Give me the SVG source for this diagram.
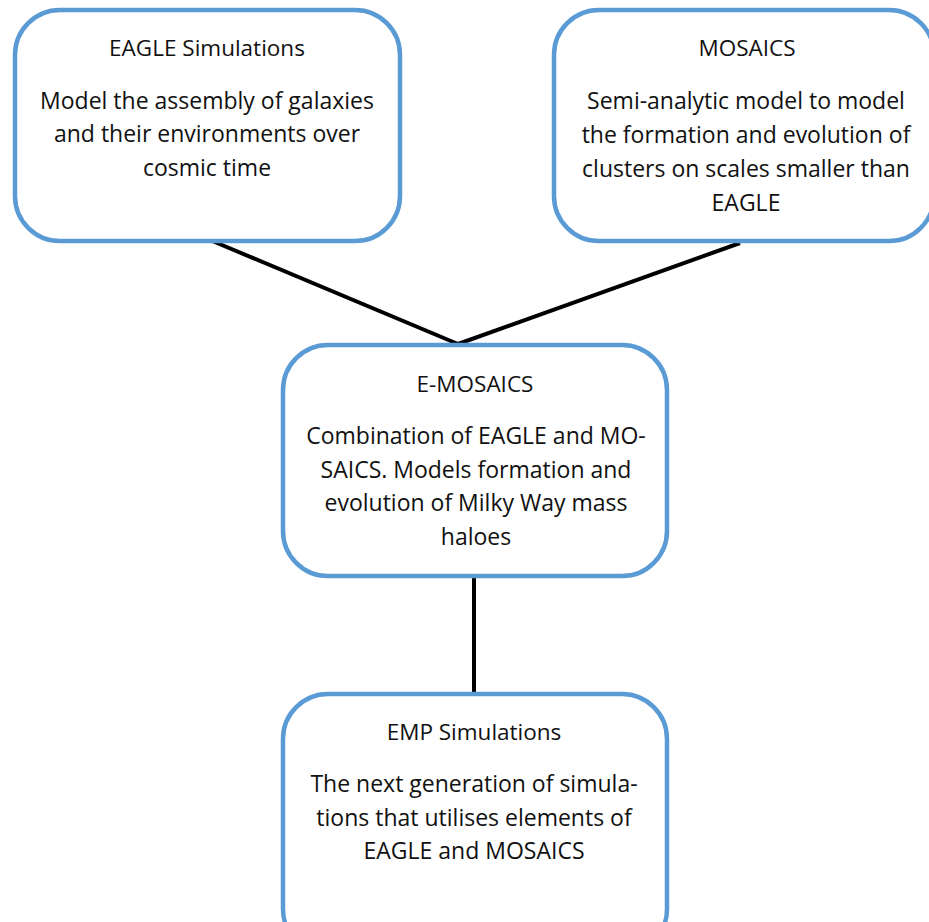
<svg xmlns="http://www.w3.org/2000/svg" width="929" height="922" viewBox="0 0 929 922">
<style>
.box{fill:#fff;stroke:#5b9bd5;stroke-width:4.5}
.t{font-family:"Open Sans","Liberation Sans",sans-serif;font-size:22.5px;fill:#111;text-anchor:middle}
.b{font-family:"Open Sans","Liberation Sans",sans-serif;font-size:23px;fill:#111;text-anchor:middle}
.c{stroke:#000;stroke-width:4;fill:none}
</style>
<rect width="929" height="922" fill="#fff"/>
<g id="connectors">
<line class="c" x1="210" y1="240" x2="458" y2="344"/>
<line class="c" x1="740" y1="243" x2="458" y2="344"/>
<line class="c" x1="474" y1="574" x2="474" y2="699"/>
</g>
<g id="eagle">
<rect class="box" x="15" y="10" width="385" height="231" rx="45"/>
<text class="t" x="207" y="56">EAGLE Simulations</text>
<text class="b" x="207" y="109">Model the assembly of galaxies</text>
<text class="b" x="207" y="142">and their environments over</text>
<text class="b" x="207" y="176">cosmic time</text>
</g>
<g id="mosaics">
<rect class="box" x="554" y="10" width="380" height="231" rx="45"/>
<text class="t" x="747" y="56">MOSAICS</text>
<text class="b" x="746" y="109">Semi-analytic model to model</text>
<text class="b" x="746" y="143">the formation and evolution of</text>
<text class="b" x="746" y="177">clusters on scales smaller than</text>
<text class="b" x="746" y="211">EAGLE</text>
</g>
<g id="emosaics">
<rect class="box" x="283" y="345" width="384" height="231" rx="45"/>
<text class="t" x="475" y="392">E-MOSAICS</text>
<text class="b" x="476" y="444">Combination of EAGLE and MO-</text>
<text class="b" x="476" y="478">SAICS. Models formation and</text>
<text class="b" x="476" y="511">evolution of Milky Way mass</text>
<text class="b" x="476" y="545">haloes</text>
</g>
<g id="emp">
<rect class="box" x="283" y="694" width="384" height="260" rx="45"/>
<text class="t" x="474" y="740">EMP Simulations</text>
<text class="b" x="474" y="792">The next generation of simula-</text>
<text class="b" x="474" y="826">tions that utilises elements of</text>
<text class="b" x="474" y="859">EAGLE and MOSAICS</text>
</g>
</svg>
